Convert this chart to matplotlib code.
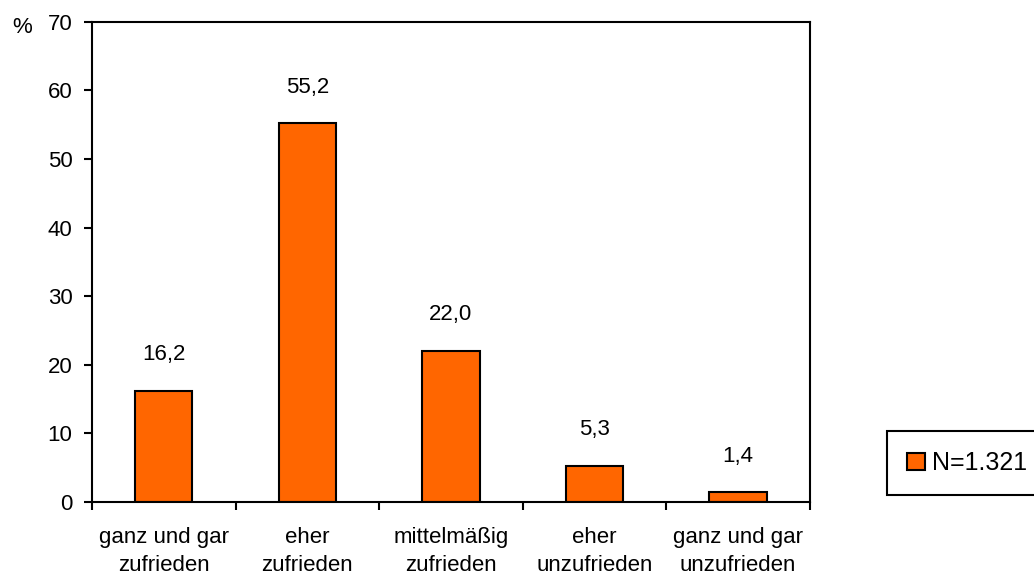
import matplotlib.pyplot as plt
import numpy as np

plt.rcParams['font.family'] = ['Liberation Sans', 'DejaVu Sans']

kategorien = ["ganz und gar\nzufrieden", "eher\nzufrieden", "mittelmäßig\nzufrieden",
              "eher\nunzufrieden", "ganz und gar\nunzufrieden"]
werte = [16.2, 55.2, 22.0, 5.3, 1.4]
legende = "N=1.321"

fs = 16

fig = plt.figure(figsize=(10.34, 5.76), dpi=100)
ax = fig.add_axes([0.089, 0.1285, 0.694, 0.8335])

x = np.arange(len(werte))
bars = ax.bar(x, werte, width=0.4, color="#FF6600", edgecolor="black", linewidth=1.5, label=legende)

# Werte ueber den Balken, mit Dezimalkomma
for xi, w in zip(x, werte):
    ax.annotate(f"{w:.1f}".replace(".", ","), (xi, w), xytext=(0, 26),
                textcoords="offset points", ha="center", va="center", fontsize=fs)

ax.set_xlim(-0.5, len(werte) - 0.5)
ax.set_ylim(0, 70)
ax.set_yticks(range(0, 71, 10))

# Striche zwischen den Kategorien, Beschriftung in der Mitte
ax.set_xticks(np.arange(-0.5, len(werte), 1.0))
ax.set_xticklabels([])
ax.set_xticks(x, minor=True)
ax.set_xticklabels(kategorien, minor=True, fontsize=fs, linespacing=1.45)
ax.tick_params(axis="x", which="minor", length=0, pad=18)
ax.tick_params(axis="x", which="major", length=6, width=1.5, direction="out")
ax.tick_params(axis="y", length=6, width=1.5, direction="out", labelsize=fs, pad=8)

for s in ax.spines.values():
    s.set_linewidth(1.5)

fig.text(0.021, 0.952, "%", fontsize=fs, ha="center", va="center")

leg = fig.legend(loc="center left", bbox_to_anchor=(0.858, 0.196), fontsize=18,
                 fancybox=False, edgecolor="black", handlelength=0.7, handleheight=0.7,
                 handletextpad=0.3, borderpad=0.8, borderaxespad=0, framealpha=1)
leg.get_frame().set_linewidth(1.5)

fig.savefig("out.png", dpi=100)
